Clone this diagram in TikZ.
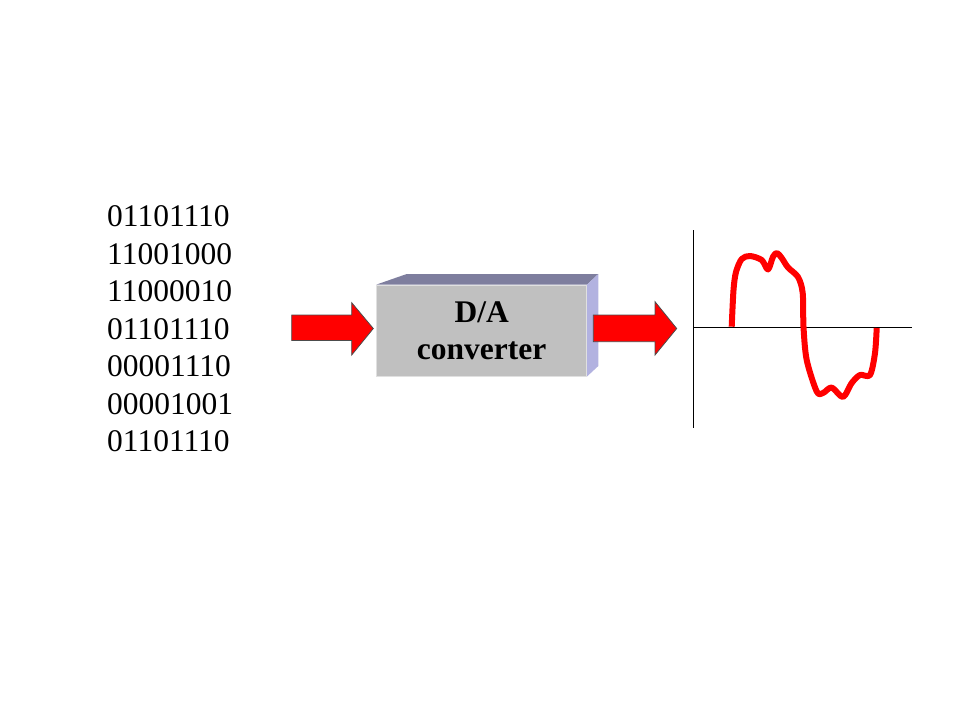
\documentclass[tikz,border=0pt]{standalone}
\usepackage{fontspec}
\setmainfont{Liberation Serif}
\usepackage{xcolor}
\definecolor{boxfront}{HTML}{C0C0C0}
\definecolor{boxtop}{HTML}{7E7E9E}
\definecolor{boxside}{HTML}{B2B2E0}
\tikzset{
	bigarrow/.style={fill=red, draw=black!70, line width=0.8pt, line join=miter},
	bits/.style={anchor=base west, inner sep=0pt, font=\fontsize{31.5}{37.5}\selectfont}
}
\begin{document}
\begin{tikzpicture}[x=1pt,y=-1pt]
	\useasboundingbox (0,0) rectangle (960,720);
	% binary words
	\foreach \w [count=\i from 0] in {01101110,11001000,11000010,01101110,00001110,00001001,01101110}
		\node[bits] (bits\i) at (107, 226.7+37.5*\i) {\w};
	
	% input arrow
	\draw[bigarrow] (291.7,315)--(351.7,315)--(351.7,302.7)--(373.3,328.5)--(351.7,355)--(351.7,340.5)--(291.7,340.5)--cycle;
	
	% the converter box
	\node[fill=boxfront, draw=black!12, line width=0.8pt, minimum width=210pt, minimum height=91pt, inner sep=0pt,
		align=center, font=\bfseries\fontsize{31.5}{37}\selectfont] (dac) at (481.7,330.5) {D/A\\converter};
	\fill[boxtop] (dac.north west)--(406.7,274)--(598.3,274)--(dac.north east)--cycle;
	\fill[boxside] (dac.north east)--(598.3,274)--(598.3,366)--(dac.south east)--cycle;
	
	% output arrow
	\draw[bigarrow] (593.3,315)--(655,315)--(655,301.7)--(676.7,328.5)--(655,355)--(655,341.7)--(593.3,341.7)--cycle;
	
	% axes
	\coordinate (top) at (693,230);
	\coordinate (bottom) at (693,428);
	\coordinate (left) at (693,327.5);
	\coordinate (right) at (912,327.5);
	\draw[line width=1pt] (top)--(bottom);
	\draw[line width=1pt] (left)--(right);
	
	% analog signal
	\draw[red, line width=6pt, line join=round] plot[smooth, tension=0.5] coordinates {
		(731.7,326.7) (733.5,290) (736,272) (741.7,259) (750,256) (761.7,260) (768,269.5) (773,256.7) (777,253)
		(781.7,258) (788,267.5) (798,277) (802.7,293) (803.5,327) (806.7,360) (816.7,391.5) (823,393)
		(831.7,387.5) (843,397) (851.7,383) (860,375) (870,375) (875,353) (876.7,328)};
\end{tikzpicture}
\end{document}
